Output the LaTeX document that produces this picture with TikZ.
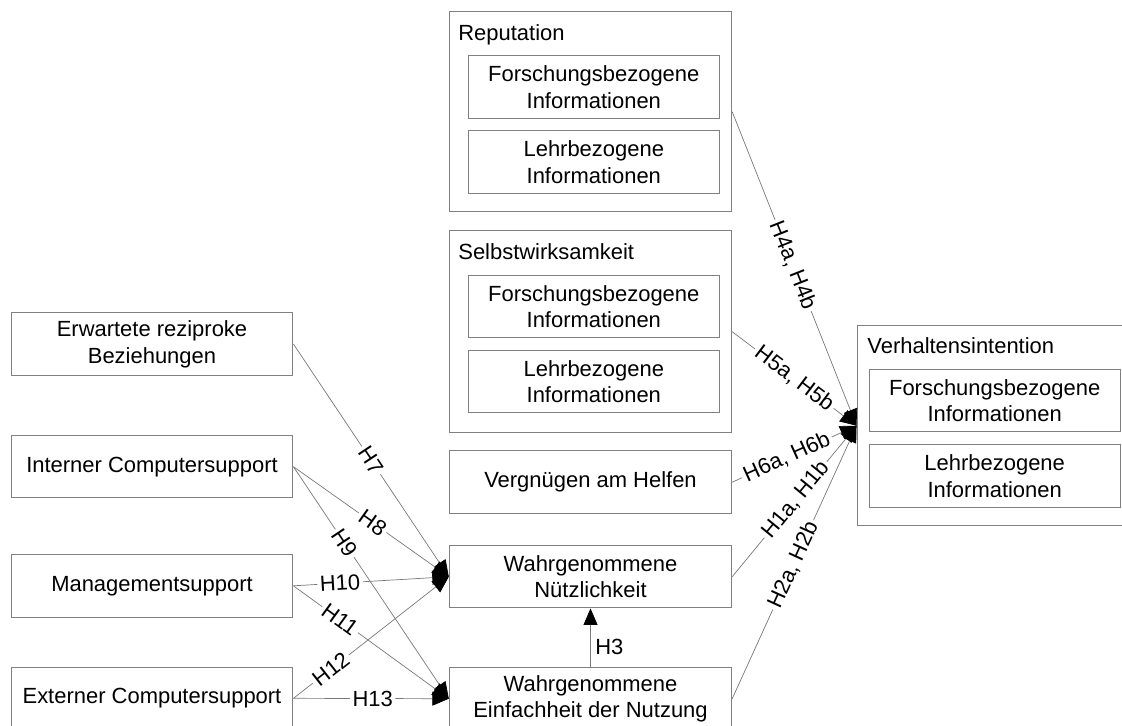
\documentclass[tikz,border=0pt]{standalone}
\usepackage{fontspec}
\setmainfont{Liberation Sans}
\usetikzlibrary{arrows.meta}
\definecolor{edge}{RGB}{128,128,128}
\definecolor{wire}{RGB}{120,120,120}
\begin{document}
\begin{tikzpicture}[x=0.02cm,y=-0.02cm,
  every node/.style={font=\fontsize{12.5}{15.2}\selectfont, text=black},
  box/.style={draw=edge, line width=0.55pt, fill=white, align=center, inner sep=0pt,
              minimum width=5.64cm, minimum height=1.25cm},
  innerbox/.style={box, minimum width=5.02cm},
  outerbox/.style={draw=edge, line width=0.55pt, inner sep=0pt,
              minimum width=5.65cm, minimum height=4.0cm},
  caption/.style={anchor=base west, inner sep=0pt},
  link/.style={draw=wire, line width=0.4pt,
              -{Triangle[length=0.33cm,width=0.28cm,black]}},
  hyp/.style={fill=white, inner sep=1.5pt, sloped, pos=#1},
  hyp/.default=0.5]
\useasboundingbox (0,0) rectangle (1122,725);
\clip (0,0) rectangle (1122,725);

% outcome construct on the right
\node[outerbox, minimum width=5.64cm] (vi) at (998,425.7) {};
\node[caption] at (867,353) {Verhaltensintention};
\node[innerbox] (vif) at (994.7,400.7) {Forschungsbezogene\\Informationen};
\node[innerbox] (vil) at (994.7,475.8) {Lehrbezogene\\Informationen};

% reputation and self-efficacy groups
\node[outerbox] (rep) at (590.5,111.7) {};
\node[caption] at (458,40) {Reputation};
\node[innerbox] (repf) at (593.8,87) {Forschungsbezogene\\Informationen};
\node[innerbox] (repl) at (593.8,162) {Lehrbezogene\\Informationen};

\node[outerbox, minimum height=4.03cm] (sw) at (590.5,331.7) {};
\node[caption] at (458,259) {Selbstwirksamkeit};
\node[innerbox] (swf) at (593.8,306.5) {Forschungsbezogene\\Informationen};
\node[innerbox] (swl) at (593.8,381.7) {Lehrbezogene\\Informationen};

% middle column
\node[box, minimum width=5.65cm] (vh) at (590.5,482.2) {Vergnügen am Helfen};
\node[box, minimum width=5.65cm] (wn) at (590.5,576.7) {Wahrgenommene\\Nützlichkeit};
\node[box, minimum width=5.65cm] (we) at (590.5,698.7) {Wahrgenommene\\Einfachheit der Nutzung};

% left column
\node[box] (erb) at (152,344) {Erwartete reziproke\\Beziehungen};
\node[box] (ics) at (152,466.7) {Interner Computersupport};
\node[box] (ms)  at (152,585.8) {Managementsupport};
\node[box] (ecs) at (152,698.3) {Externer Computersupport};

% paths into behavioural intention
\draw[link] (rep.east) -- node[hyp=0.49] {H4a, H4b} (vi.west);
\draw[link] (sw.east) -- node[hyp=0.5] {H5a, H5b} (vi.west);
\draw[link] (vh.east) -- node[hyp=0.44] {H6a, H6b} (vi.west);
\draw[link] (wn.east) -- node[hyp=0.51] {H1a, H1b} (vi.west);
\draw[link] (we.east) -- node[hyp=0.49] {H2a, H2b} (vi.west);

% ease of use -> usefulness
\draw[link] (we.north) -- node[pos=0.35, anchor=west, inner sep=0pt, xshift=0.09cm] {H3} (wn.south);

% antecedents
\draw[link] (erb.east) -- node[hyp=0.5] {H7} (wn.west);
\draw[link] (ics.east) -- node[hyp=0.51] {H8} (wn.west);
\draw[link] (ics.east) -- node[hyp=0.33] {H9} (we.west);
\draw[link] (ms.east) -- node[hyp=0.3] {H10} (wn.west);
\draw[link] (ms.east) -- node[hyp=0.3] {H11} (we.west);
\draw[link] (ecs.east) -- node[hyp=0.24] {H12} (wn.west);
\draw[link] (ecs.east) -- node[hyp=0.51] {H13} (we.west);
\end{tikzpicture}
\end{document}
